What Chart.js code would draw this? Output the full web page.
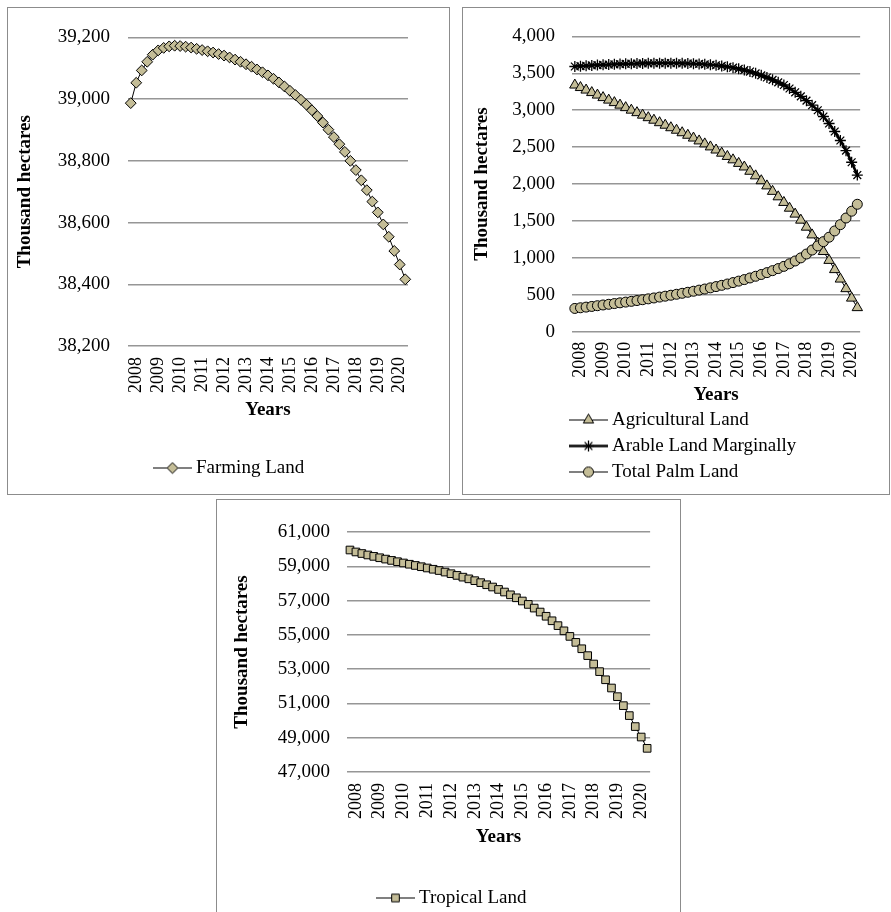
<!DOCTYPE html>
<html><head><meta charset="utf-8">
<script src="https://cdn.jsdelivr.net/npm/chart.js@4.4.0/dist/chart.umd.min.js"></script>
<style>
html,body{margin:0;padding:0;background:#fff;}
body{width:891px;height:912px;position:relative;overflow:hidden;}
.panel{position:absolute;border:1px solid #8c8c8c;box-sizing:content-box;background:#fff;}
.panel canvas{display:block;}
</style></head><body>
<div class="panel" style="left:7px;top:7px;width:441px;height:486px;"><canvas id="c1" width="441" height="486"></canvas></div>
<div class="panel" style="left:462px;top:7px;width:426px;height:486px;"><canvas id="c2" width="426" height="486"></canvas></div>
<div class="panel" style="left:216px;top:499px;width:463px;height:420px;"><canvas id="c3" width="463" height="420"></canvas></div>
<script>
// ---- data ----
const tickYears = ['2008','2009','2010','2011','2012','2013','2014','2015','2016','2017','2018','2019','2020'];
const farmingLand = [38987,39053,39093,39121,39144,39158,39166,39171,39173,39172,39170,39167,39163,39159,39155,39151,39146,39141,39135,39128,39121,39113,39105,39096,39087,39077,39066,39054,39041,39027,39013,38998,38982,38964,38945,38924,38901,38877,38854,38829,38800,38770,38737,38705,38668,38633,38594,38554,38508,38464,38416];
const agriculturalLand = [3341,3307,3273,3239,3205,3171,3137,3103,3069,3035,3001,2967,2933,2899,2865,2831,2797,2763,2729,2695,2661,2623,2584,2544,2503,2461,2418,2374,2328,2280,2231,2173,2111,2045,1975,1901,1827,1751,1673,1593,1511,1416,1311,1201,1086,966,841,713,583,455,326];
const arableLandMarginally = [3592,3597,3602,3607,3611,3615,3619,3622,3625,3628,3630,3632,3634,3635,3636,3637,3637,3637,3636,3635,3633,3630,3627,3622,3616,3609,3600,3589,3576,3561,3544,3524,3500,3473,3443,3412,3378,3342,3294,3243,3188,3130,3068,3000,2915,2820,2712,2590,2452,2295,2122];
const totalPalmLand = [315,324,333,342,352,362,371,381,391,401,411,422,433,445,457,469,481,494,507,520,534,548,563,578,594,611,628,646,665,685,706,728,751,775,800,827,855,885,920,958,1000,1052,1106,1162,1220,1280,1365,1450,1540,1632,1726];
const tropicalLand = [59950,59835,59745,59660,59578,59498,59420,59343,59267,59193,59120,59048,58975,58901,58827,58752,58662,58567,58468,58367,58268,58161,58046,57923,57791,57650,57498,57336,57162,56975,56775,56561,56331,56085,55821,55538,55235,54910,54562,54189,53789,53300,52855,52380,51900,51395,50870,50290,49650,49040,48380];

// 51 period slots; a year label sits on every 4th slot
const periods = farmingLand.map((_, i) => (i % 4 === 1) ? tickYears[(i - 1) / 4] : '');

const TAN = '#C4BD97';
const SERIF = '"Liberation Serif","Times New Roman","DejaVu Serif",serif';
const GRID = '#969696';
Chart.defaults.font.family = SERIF;
Chart.defaults.color = '#000';

function legendSymbol(style, radius, lineW, bw) {
  const c = document.createElement('canvas');
  c.width = 39; c.height = 17;
  const ctx = c.getContext('2d');
  ctx.strokeStyle = '#000'; ctx.lineWidth = lineW;
  ctx.beginPath(); ctx.moveTo(0, 8.5); ctx.lineTo(39, 8.5); ctx.stroke();
  ctx.fillStyle = TAN; ctx.strokeStyle = '#000'; ctx.lineWidth = bw;
  Chart.helpers.drawPoint(ctx, {pointStyle: style, radius: radius, borderWidth: bw, rotation: 0}, 19.5, 8.5);
  return c;
}

const legendPlacer = {
  id: 'legendPlacer',
  afterLayout(chart, args, opts) {
    const lg = chart.legend; if (!lg) return;
    const w = lg.width, h = lg.height;
    lg.left = opts.left; lg.top = opts.top; lg.right = opts.left + w; lg.bottom = opts.top + h;
  }
};

function buildChart(id, p) {
  const symbols = p.datasets.map(d => legendSymbol(d.pointStyle, d.pointRadius, d.borderWidth, d.pointBorderWidth));
  return new Chart(document.getElementById(id), {
    type: 'line',
    data: { labels: periods, datasets: p.datasets.map(d => Object.assign({
      borderColor: '#000', pointBackgroundColor: TAN, pointBorderColor: '#000',
      tension: 0, fill: false, clip: false, pointHoverRadius: d.pointRadius
    }, d)) },
    options: {
      responsive: false, animation: false, devicePixelRatio: 1,
      events: [],
      layout: { padding: p.pad },
      plugins: {
        tooltip: { enabled: false },
        legendPlacer: p.legend,
        legend: {
          display: true, position: 'chartArea', align: 'start',
          labels: {
            usePointStyle: true, pointStyleWidth: 28, padding: 7, color: '#000',
            font: { family: SERIF, size: 19 },
            generateLabels: (chart) => chart.data.datasets.map((ds, i) => ({
              text: ds.label, pointStyle: symbols[i], fillStyle: TAN, strokeStyle: '#000',
              lineWidth: 1, hidden: false, datasetIndex: i, fontColor: '#000'
            }))
          }
        }
      },
      scales: {
        x: {
          type: 'category', offset: true,
          grid: { display: false, drawTicks: false }, border: { display: false },
          ticks: { autoSkip: false, maxRotation: 90, minRotation: 90, padding: p.xPad, color: '#000', font: { family: SERIF, size: 18 } },
          title: { display: true, text: 'Years', color: '#000', padding: 0, font: { family: SERIF, size: 19, weight: 'bold' } },
          afterFit(s) { s.height = p.xH; }
        },
        y: {
          min: p.min, max: p.max,
          grid: { color: GRID, lineWidth: 1.5, drawTicks: false }, border: { display: false },
          ticks: { stepSize: p.step, padding: p.yPad, color: '#000', font: { family: SERIF, size: 19 },
                   callback: v => Number(v).toLocaleString('en-US') },
          title: { display: true, text: 'Thousand hectares', color: '#000', padding: { top: p.yTitlePad, bottom: 0 },
                   font: { family: SERIF, size: 19, weight: 'bold' } },
          afterFit(s) { s.width = p.yW; }
        }
      }
    },
    plugins: [legendPlacer]
  });
}

buildChart('c1', {
  min: 38200, max: 39200, step: 200,
  pad: { left: 0, top: 29, right: 41, bottom: 72.6 }, xH: 75.4, yW: 120, yPad: 18, xPad: 11, yTitlePad: 5.6,
  legend: { left: 143.5, top: 443.5 },
  datasets: [
    { label: 'Farming Land', data: farmingLand, borderWidth: 1, pointStyle: 'rectRot', pointRadius: 5.4, pointBorderWidth: 1 }
  ]
});

buildChart('c2', {
  min: 0, max: 4000, step: 500,
  pad: { left: 0, top: 20.3, right: 9, bottom: 87.6 }, xH: 74.7, yW: 109, yPad: 17, xPad: 10, yTitlePad: 7.6,
  legend: { left: 104.5, top: 395.5 },
  datasets: [
    { label: 'Agricultural Land', data: agriculturalLand, borderWidth: 1, pointStyle: 'triangle', pointRadius: 6, pointBorderWidth: 1, order: 2 },
    { label: 'Arable Land Marginally', data: arableLandMarginally, borderWidth: 2.6, pointStyle: 'star', pointRadius: 5.5, pointBorderWidth: 1.3, order: 1 },
    { label: 'Total Palm Land', data: totalPalmLand, borderWidth: 1, pointStyle: 'circle', pointRadius: 5, pointBorderWidth: 1, order: 0 }
  ]
});

buildChart('c3', {
  min: 47000, max: 61000, step: 2000,
  pad: { left: 0, top: 32, right: 26, bottom: 71.6 }, xH: 76.4, yW: 130, yPad: 17, xPad: 11, yTitlePad: 13.6,
  legend: { left: 157.5, top: 381.5 },
  datasets: [
    { label: 'Tropical Land', data: tropicalLand, borderWidth: 1, pointStyle: 'rect', pointRadius: 5.4, pointBorderWidth: 1 }
  ]
});
</script>
</body></html>
